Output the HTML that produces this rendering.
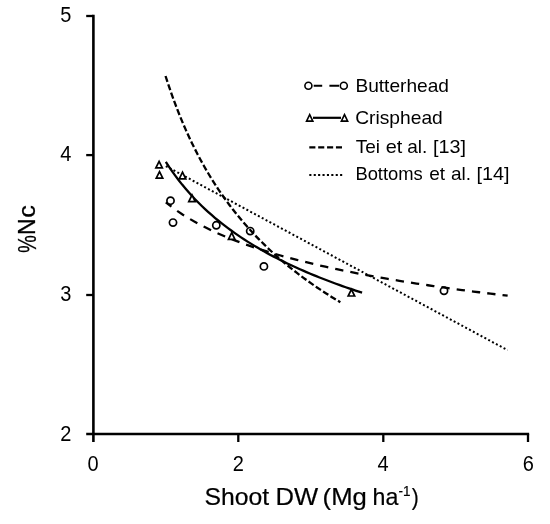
<!DOCTYPE html>
<html><head><meta charset="utf-8"><title>Critical N curves</title>
<style>
html,body{margin:0;padding:0;background:#fff;}
svg{display:block;}
text{font-family:"Liberation Sans",sans-serif;fill:#000;}
.tick{font-size:21.3px;}
.leg{font-size:19px;}
</style></head><body>
<svg width="550" height="524" viewBox="0 0 550 524">
<rect width="550" height="524" fill="#fff"/>
<g stroke="#000" fill="none" stroke-linecap="butt">
<path d="M93.4 14.85 V442" stroke-width="2.6"/>
<path d="M86.2 434.05 H529.15" stroke-width="2.5"/>
<g stroke-width="2.3">
<path d="M86.2 16 H93.4"/>
<path d="M86.2 155.1 H93.4"/>
<path d="M86.2 295 H93.4"/>
<path d="M238.3 434 V442"/>
<path d="M383.3 434 V442"/>
<path d="M528 434 V442"/>
</g>
</g>
<g class="tick" text-anchor="middle">
<text transform="translate(65.9 22.1) scale(0.94 1)">5</text>
<text transform="translate(65.9 161.2) scale(0.94 1)">4</text>
<text transform="translate(65.9 301.1) scale(0.94 1)">3</text>
<text transform="translate(65.9 441) scale(0.94 1)">2</text>
<text transform="translate(93 471) scale(0.94 1)">0</text>
<text transform="translate(238.2 471) scale(0.94 1)">2</text>
<text transform="translate(383.1 471) scale(0.94 1)">4</text>
<text transform="translate(528.3 471.1) scale(0.94 1)">6</text>
</g>
<g transform="translate(35.2 252.5) rotate(-90)" font-size="23.3" stroke="#000" stroke-width="0.25">
<text x="-0.6" y="0.4" font-size="26.3" textLength="18" lengthAdjust="spacingAndGlyphs">%</text>
<text x="17.4" y="0" textLength="16.6" lengthAdjust="spacingAndGlyphs">N</text>
<text x="34.8" y="0" textLength="12.6" lengthAdjust="spacingAndGlyphs">c</text>
</g>
<g font-size="23.6" stroke="#000" stroke-width="0.2">
<text x="204.6" y="504.5" textLength="64.6" lengthAdjust="spacingAndGlyphs">Shoot</text>
<text x="275.6" y="504.5" textLength="42.6" lengthAdjust="spacingAndGlyphs">DW</text>
<text x="322.6" y="504.5" textLength="44.2" lengthAdjust="spacingAndGlyphs">(Mg</text>
<text x="372.6" y="504.5" textLength="25.8" lengthAdjust="spacingAndGlyphs">ha</text>
<text x="398.6" y="496" font-size="14" textLength="12" lengthAdjust="spacingAndGlyphs">-1</text>
<text x="411.8" y="504.5" textLength="7" lengthAdjust="spacingAndGlyphs">)</text>
</g>
<g fill="none" stroke="#000">
<path d="M165.53 76.00 L168.44 84.93 L171.36 93.40 L174.27 101.45 L177.19 109.12 L180.10 116.44 L183.01 123.43 L185.93 130.12 L188.84 136.52 L191.75 142.67 L194.67 148.58 L197.58 154.26 L200.49 159.73 L203.41 164.99 L206.32 170.08 L209.24 174.99 L212.15 179.73 L215.06 184.32 L217.98 188.76 L220.89 193.06 L223.80 197.24 L226.72 201.28 L229.63 205.21 L232.55 209.03 L235.46 212.74 L238.37 216.34 L241.29 219.85 L244.20 223.27 L247.11 226.60 L250.03 229.85 L252.94 233.01 L255.85 236.10 L258.77 239.11 L261.68 242.05 L264.60 244.92 L267.51 247.73 L270.42 250.47 L273.34 253.16 L276.25 255.78 L279.16 258.35 L282.08 260.87 L284.99 263.33 L287.91 265.74 L290.82 268.10 L293.73 270.42 L296.65 272.69 L299.56 274.92 L302.47 277.11 L305.39 279.25 L308.30 281.36 L311.22 283.42 L314.13 285.45 L317.04 287.45 L319.96 289.41 L322.87 291.33 L325.78 293.22 L328.70 295.08 L331.61 296.91 L334.52 298.71 L337.44 300.48 L340.35 302.22" stroke-width="2.3" stroke-dasharray="6.2 2.6"/>
<path d="M165.82 166.08 L336.73 258.15 L507.64 350.21" stroke-width="2.0" stroke-dasharray="2.0 2.36"/>
<path d="M165.82 202.30 L171.52 206.76 L177.21 210.87 L182.91 214.68 L188.61 218.23 L194.31 221.55 L200.00 224.67 L205.70 227.60 L211.40 230.38 L217.09 233.01 L222.79 235.50 L228.49 237.88 L234.18 240.15 L239.88 242.31 L245.58 244.39 L251.28 246.38 L256.97 248.29 L262.67 250.13 L268.37 251.90 L274.06 253.61 L279.76 255.26 L285.46 256.85 L291.15 258.39 L296.85 259.89 L302.55 261.33 L308.25 262.74 L313.94 264.10 L319.64 265.42 L325.34 266.71 L331.03 267.96 L336.73 269.18 L342.43 270.37 L348.13 271.53 L353.82 272.66 L359.52 273.76 L365.22 274.84 L370.91 275.89 L376.61 276.91 L382.31 277.92 L388.00 278.90 L393.70 279.86 L399.40 280.80 L405.10 281.73 L410.79 282.63 L416.49 283.52 L422.19 284.38 L427.88 285.24 L433.58 286.07 L439.28 286.89 L444.97 287.70 L450.67 288.49 L456.37 289.27 L462.07 290.03 L467.76 290.78 L473.46 291.52 L479.16 292.24 L484.85 292.96 L490.55 293.66 L496.25 294.35 L501.95 295.03 L507.64 295.70" stroke-width="2.3" stroke-dasharray="8.3 7.1" stroke-dashoffset="1.2"/>
<path d="M165.82 161.90 L169.09 166.91 L172.36 171.66 L175.63 176.18 L178.90 180.50 L182.17 184.61 L185.45 188.55 L188.72 192.32 L191.99 195.94 L195.26 199.42 L198.53 202.76 L201.80 205.98 L205.07 209.09 L208.34 212.09 L211.61 214.98 L214.88 217.78 L218.16 220.50 L221.43 223.12 L224.70 225.67 L227.97 228.14 L231.24 230.54 L234.51 232.88 L237.78 235.15 L241.05 237.35 L244.32 239.50 L247.59 241.60 L250.87 243.64 L254.14 245.63 L257.41 247.57 L260.68 249.46 L263.95 251.32 L267.22 253.12 L270.49 254.89 L273.76 256.62 L277.03 258.31 L280.30 259.97 L283.57 261.59 L286.85 263.18 L290.12 264.74 L293.39 266.26 L296.66 267.76 L299.93 269.22 L303.20 270.66 L306.47 272.07 L309.74 273.46 L313.01 274.82 L316.28 276.16 L319.56 277.47 L322.83 278.76 L326.10 280.03 L329.37 281.28 L332.64 282.50 L335.91 283.71 L339.18 284.89 L342.45 286.06 L345.72 287.21 L348.99 288.34 L352.27 289.46 L355.54 290.56 L358.81 291.64 L362.08 292.70" stroke-width="2.3"/>
</g>
<g fill="#fff" stroke="#000" stroke-width="1.7" stroke-linejoin="miter">
<path d="M159.10 161.30 L162.35 167.90 L155.85 167.90 Z"/><path d="M159.50 171.60 L162.75 178.20 L156.25 178.20 Z"/><path d="M182.50 172.20 L185.75 178.80 L179.25 178.80 Z"/><path d="M192.00 195.00 L195.25 201.60 L188.75 201.60 Z"/><path d="M231.70 232.70 L234.95 239.30 L228.45 239.30 Z"/><path d="M351.40 289.40 L354.65 296.00 L348.15 296.00 Z"/>
</g>
<g fill="none" stroke="#000" stroke-width="1.7">
<circle cx="170.50" cy="200.70" r="3.60"/><circle cx="173.00" cy="222.60" r="3.60"/><circle cx="216.30" cy="225.30" r="3.60"/><circle cx="250.20" cy="231.10" r="3.60"/><circle cx="263.90" cy="266.40" r="3.60"/><circle cx="444.00" cy="290.80" r="3.60"/>
</g>
<g fill="none" stroke="#000" stroke-width="1.6">
<path d="M313.7 85.7 H322.2 M329.4 85.7 H339" stroke-width="2.1"/>
<circle cx="308.4" cy="85.7" r="3.5" fill="#fff"/>
<circle cx="343.8" cy="85.7" r="3.5" fill="#fff"/>
<path d="M313 117.8 H341" stroke-width="2.2"/>
<g fill="#fff" stroke-width="1.6"><path d="M309.70 114.65 L312.85 121.15 L306.55 121.15 Z"/><path d="M344.50 114.65 L347.65 121.15 L341.35 121.15 Z"/></g>
<path d="M309.3 147.4 H342" stroke-width="2.2" stroke-dasharray="6.1 2.78"/>
<path d="M309.3 174.9 H342.2" stroke-width="2" stroke-dasharray="2.1 2.3"/>
</g>
<g class="leg">
<text x="355.4" y="92.2" textLength="93.6" lengthAdjust="spacingAndGlyphs">Butterhead</text>
<text x="355.2" y="123.7" textLength="87.6" lengthAdjust="spacingAndGlyphs">Crisphead</text>
<text x="355.8" y="153">Tei</text>
<text x="385.8" y="153" textLength="16.6" lengthAdjust="spacingAndGlyphs">et</text>
<text x="407.2" y="153">al.</text>
<text x="433" y="153" textLength="33" lengthAdjust="spacingAndGlyphs">[13]</text>
<text x="355.4" y="180.2" textLength="67.4" lengthAdjust="spacingAndGlyphs">Bottoms</text>
<text x="429.2" y="180.2">et</text>
<text x="450.9" y="180.2">al.</text>
<text x="476.6" y="180.2" textLength="33" lengthAdjust="spacingAndGlyphs">[14]</text>
</g>
</svg>
</body></html>
